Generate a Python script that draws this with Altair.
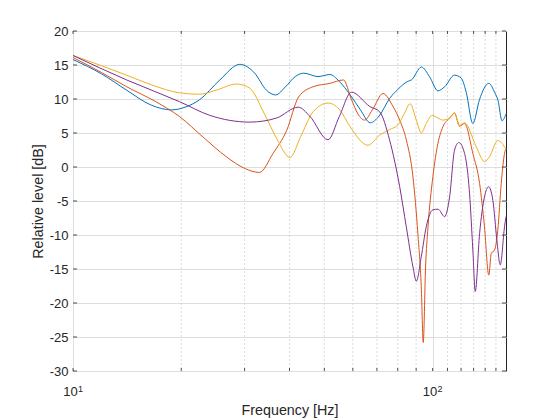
import pandas as pd
import altair as alt

# frequency [Hz] / level [dB], one pair of lists per curve
blue_f = [10, 12, 14.1, 16.5, 18.8, 20.5, 22.5, 25.6, 29.1, 32, 34.5, 36.6, 39, 41.5,
          43.8, 48, 51.8, 55, 59, 63, 67.1, 71, 76, 80, 85.3, 87.3, 93.1, 98, 103.5,
          108, 115, 120, 124, 129.4, 135, 143.3, 149, 152, 156, 160]
blue_db = [15.8, 13.7, 11.3, 9.1, 8.4, 8.8, 9.9, 12.8, 15.1, 13.8, 11.3, 10.6, 11.8, 13.3,
           13.8, 13.3, 13.6, 12.6, 10.6, 8.4, 6.5, 7.5, 10.1, 11.4, 12.6, 12.8, 14.7, 13.3, 11.2,
           11.8, 13.5, 13.1, 11.0, 6.4, 9.9, 12.3, 10.9, 9.8, 6.8, 7.8]

orange_f = [10, 12, 14.1, 17, 19.8, 23, 26.7, 30, 33, 36, 39.3, 42.4, 46.5, 51.8, 56.5,
            59.5, 62, 64.7, 68, 72.8, 77.6, 81, 84.5, 88.2, 91, 93, 94.2, 95.6, 97.1,
            100.2, 103.5, 106.8, 111.5, 115.1, 118.9, 122.7, 129.4, 135.1, 139.4, 143.3,
            145.6, 148.7, 151.8, 155.2, 158.5, 160]
orange_db = [16.1, 13.9, 11.8, 9.6, 7.4, 4.4, 1.5, -0.2, -0.8, 2.0, 5.4, 10.3, 11.8, 12.3, 12.8,
             9.9, 7.8, 6.9, 8.4, 10.8, 8.9, 6.9, 4.0, -1.5, -9.8, -17.6, -25.8, -14.7, -8.8,
             -1.4, 3.5, 5.9, 7.2, 7.9, 6.0, 6.4, 2.0, -2.4, -8.8, -15.9,
             -12.7, -12.2, -9.3, -2.4, 2.0, 2.7]

yellow_f = [10, 12, 14.1, 16.5, 19.8, 22.5, 25, 28.5, 31, 34, 37, 40.1, 43, 46.5, 51.2,
            55, 59, 66.1, 71.3, 75.9, 80.1, 83.5, 86.6, 90.1, 93, 96, 99.7, 103.5, 106.8,
            111.5, 115, 118.9, 122.7, 132.2, 139.4, 143.9, 151.8, 160]
yellow_db = [16.4, 14.9, 13.5, 12.1, 10.9, 10.7, 11.3, 12.2, 11.6, 7.9, 4.0, 1.4, 4.5, 8.1, 9.4,
             8.5, 5.9, 3.2, 4.7, 5.5, 6.2, 7.9, 9.3, 6.9, 5.0, 6.4, 7.6, 7.2, 6.9,
             7.2, 8.0, 6.1, 6.5, 3.0, 0.8, 1.5, 3.9, 2.6]

purple_f = [10, 14.1, 19.8, 24, 31, 36.8, 42.3, 45.5, 51.2, 55, 59.5, 66.9, 71.3, 75.9,
            81, 84.5, 88.2, 90.1, 93, 96, 100.2, 103.5, 108, 111.5, 115.1, 118.3, 122.7,
            126.7, 129.4, 131.4, 135.1, 139.4, 143.1, 147.1, 150.9, 154.2, 158.5, 160]
purple_db = [16.4, 12.8, 9.6, 7.6, 6.6, 7.2, 8.8, 7.5, 4.0, 7.4, 11.0, 8.9, 8.1, 4.0,
             -2.9, -8.8, -14.7, -16.8, -13.2, -8.8, -6.3, -6.2, -7.3, -4.4, 2.5, 3.6, 2.0,
             -3.9, -12.2, -18.3, -9.8, -4.4, -2.9, -4.9, -10.7, -14.4, -8.8, -7.3]

series_names = ['1', '2', '3', '4']
series_colors = ['#0072BD', '#D95319', '#EDB120', '#7E2F8E']

y_ticks = [-30, -25, -20, -15, -10, -5, 0, 5, 10, 15, 20]
x_major = [10, 100]
x_exponents = ['1', '2']
x_minor = [20, 30, 40, 50, 60, 70, 80, 90, 110, 120, 130, 140, 150]

rows = []
for name, fs, ds in zip(series_names,
                        [blue_f, orange_f, yellow_f, purple_f],
                        [blue_db, orange_db, yellow_db, purple_db]):
    for f, d in zip(fs, ds):
        rows.append({'series': name, 'freq': f, 'level': d})
df = pd.DataFrame(rows)

W, H = 433, 340
ink = '#262626'
font = 'Liberation Sans'

x_enc = alt.X('freq:Q',
              scale=alt.Scale(type='log', domain=[10, 160], nice=False),
              axis=alt.Axis(values=x_major, grid=True, gridColor='#DEDEDE',
                            ticks=False, tickSize=0, domain=False,
                            labelExpr="'10'", labelFlush=False, labelOffset=-3,
                            labelPadding=14, titlePadding=5,
                            title='Frequency [Hz]'))
y_enc = alt.Y('level:Q',
              scale=alt.Scale(domain=[-30, 20], nice=False),
              axis=alt.Axis(values=y_ticks, grid=True, gridColor='#DEDEDE',
                            ticks=False, tickSize=0, domain=False,
                            labelExpr="'' + datum.value",
                            labelPadding=5, titlePadding=4,
                            title='Relative level [dB]'))

xt = pd.DataFrame({'freq': x_major + x_minor})
yt = pd.DataFrame({'level': y_ticks})

minor_grid = alt.Chart(pd.DataFrame({'freq': x_minor})).mark_rule(
    color='#CCCCCC', strokeDash=[2, 2], strokeWidth=0.7
).encode(x=x_enc)

lines = alt.Chart(df).mark_line(strokeWidth=1, interpolate='monotone').encode(
    x=x_enc,
    y=y_enc,
    color=alt.Color('series:N', scale=alt.Scale(domain=series_names, range=series_colors),
                    legend=None),
)

tick_style = dict(color=ink, strokeWidth=0.8)
bottom_ticks = alt.Chart(xt).mark_rule(**tick_style).encode(
    x=x_enc, y=alt.value(H), y2=alt.value(H - 3))
top_ticks = alt.Chart(xt).mark_rule(**tick_style).encode(
    x=x_enc, y=alt.value(0), y2=alt.value(3))
left_ticks = alt.Chart(yt).mark_rule(**tick_style).encode(
    y=y_enc, x=alt.value(0), x2=alt.value(4))
right_ticks = alt.Chart(yt).mark_rule(**tick_style).encode(
    y=y_enc, x=alt.value(W), x2=alt.value(W - 4))

# exponents of the 10^n tick labels
exponents = alt.Chart(pd.DataFrame({'freq': x_major, 'exp': x_exponents})).mark_text(
    font=font, fontSize=9, color=ink, align='left', baseline='alphabetic', dx=5
).encode(x=x_enc, y=alt.value(H + 20.5), text='exp:N')

chart = alt.layer(
    minor_grid, lines, bottom_ticks, top_ticks, left_ticks, right_ticks, exponents
).properties(
    width=W,
    height=H,
    autosize=alt.AutoSizeParams(type='none'),
    padding={'left': 65, 'top': 23, 'right': 46, 'bottom': 52},
    background='white',
).configure_view(
    stroke=ink, strokeWidth=1
).configure_axis(
    labelFont=font, labelFontSize=13, labelColor=ink,
    titleFont=font, titleFontSize=14.3, titleFontWeight='normal', titleColor=ink,
)

chart.save('out.html', embed_options={'renderer': 'svg', 'actions': False})
